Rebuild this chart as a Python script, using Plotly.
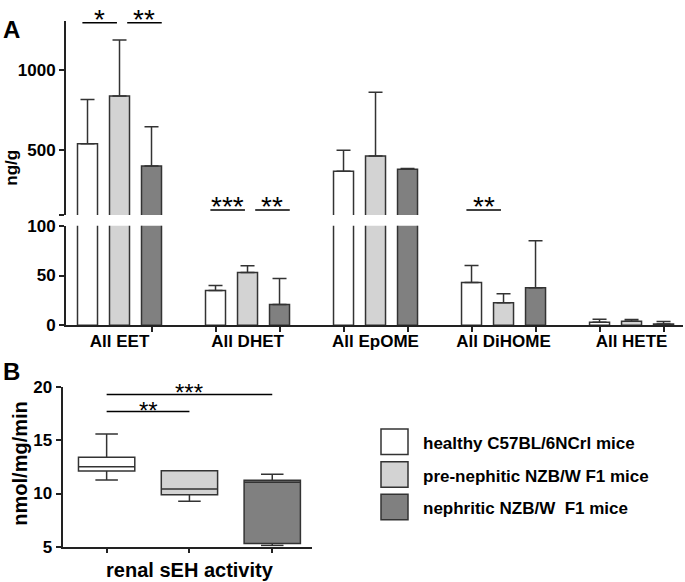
import plotly.graph_objects as go

# ---------------- data ----------------
groups = ["All EET", "All DHET", "All EpOME", "All DiHOME", "All HETE"]
series_names = ["healthy C57BL/6NCrl mice", "pre-nephitic NZB/W F1 mice", "nephritic NZB/W  F1 mice"]

healthy = [540, 35, 369, 43, 3.2]
healthy_err = [275, 5, 131, 17, 2.9]
pre = [837, 53, 464, 22.6, 4.2]
pre_err = [350, 6.8, 396, 9.1, 1.6]
neph = [402, 21, 381, 37.6, 1.3]
neph_err = [244, 26, 5, 47.2, 2.6]

seh_q1 = [12.12, 9.88, 5.3]
seh_median = [12.52, 10.43, 11.06]
seh_q3 = [13.43, 12.15, 11.25]
seh_low = [11.27, 9.27, 5.09]
seh_high = [15.6, 12.15, 11.82]

# significance: (group, bracket index, stars, height)
sig_a = [(0, 0, "*", 1293), (0, 1, "**", 1293), (1, 0, "***", 128), (1, 1, "**", 128), (3, 0, "**", 128)]
# (from box, to box, stars, height)
sig_b = [(0, 1, "**", 17.73), (0, 2, "***", 19.34)]

# ---------------- styling / layout ----------------
W, H = 685, 582
FONT = "Liberation Sans, Arial, sans-serif"
EDGE = "#333333"
fills = ["#ffffff", "#d3d3d3", "#808080"]
offsets = [-0.25, 0.0, 0.25]
bar_w = 20 / 128
bracket_spans = [(-0.29, -0.02), (0.06, 0.33)]
LOW_MAX = 100
UP_MIN, UP_MAX = 96.4, 1307


def fx(p):
    return p / W


def fy(p):
    return 1 - p / H


values = [healthy, pre, neph]
errors = [healthy_err, pre_err, neph_err]

fig = go.Figure()
gidx = list(range(len(groups)))

for s in range(3):
    xs = [g + offsets[s] for g in gidx]
    low_err = [e if v <= LOW_MAX else 0 for v, e in zip(values[s], errors[s])]
    fig.add_trace(go.Bar(
        x=xs, y=values[s], width=bar_w, xaxis="x", yaxis="y",
        marker=dict(color=fills[s], line=dict(color=EDGE, width=1.5)),
        error_y=dict(type="data", symmetric=False, array=low_err,
                     arrayminus=[0] * len(xs), color=EDGE, thickness=1.5, width=7),
        showlegend=False, hoverinfo="skip"))
    up_idx = [i for i, v in enumerate(values[s]) if v > LOW_MAX]
    fig.add_trace(go.Bar(
        x=[xs[i] for i in up_idx], y=[values[s][i] for i in up_idx], width=bar_w,
        xaxis="x", yaxis="y2",
        marker=dict(color=fills[s], line=dict(color=EDGE, width=1.5)),
        error_y=dict(type="data", symmetric=False, array=[errors[s][i] for i in up_idx],
                     arrayminus=[0] * len(up_idx), color=EDGE, thickness=1.5, width=7),
        showlegend=False, hoverinfo="skip"))

fig.add_trace(go.Scatter(x=gidx, y=[0] * len(gidx), xaxis="x3", yaxis="y",
                         mode="markers", marker=dict(opacity=0), showlegend=False,
                         hoverinfo="skip"))

for s in range(3):
    fig.add_trace(go.Box(
        x=[s], q1=[seh_q1[s]], median=[seh_median[s]], q3=[seh_q3[s]],
        lowerfence=[seh_low[s]], upperfence=[seh_high[s]],
        xaxis="x2", yaxis="y3", width=0.68, whiskerwidth=0.4,
        fillcolor=fills[s], line=dict(color=EDGE, width=1.5),
        boxpoints=False, showlegend=False, hoverinfo="skip"))

tickfont = dict(family=FONT, size=17, color="black", weight="bold")
axis_common = dict(showline=True, linecolor="#222222", linewidth=1.8, showgrid=False,
                   zeroline=False, ticks="outside", ticklen=5, tickwidth=1.8,
                   tickcolor="#222222", tickfont=tickfont)

xr = [-0.418, 4.402]
minor_ticks = [g + 0.25 for g in gidx] + [g + 0.75 for g in gidx[:-1]]

fig.update_layout(
    width=W, height=H, autosize=False,
    margin=dict(l=0, r=0, t=0, b=0),
    paper_bgcolor="white", plot_bgcolor="rgba(0,0,0,0)",
    barmode="overlay",
    font=dict(family=FONT, color="black"),
    xaxis=dict(axis_common, domain=[fx(66), fx(683)], range=xr, anchor="y",
               tickvals=sorted(minor_ticks), ticktext=[""] * len(minor_ticks)),
    xaxis3=dict(overlaying="x", domain=[fx(66), fx(683)], range=xr, anchor="y",
                showline=False, showgrid=False, zeroline=False, ticks="",
                tickvals=gidx, ticktext=groups, tickfont=tickfont, side="bottom",
                ticklabelstandoff=4),
    yaxis=dict(axis_common, domain=[fy(327), fy(224)], range=[0, LOW_MAX], anchor="x",
               tickvals=[0, 50, 100]),
    yaxis2=dict(axis_common, domain=[fy(213), fy(12)], range=[UP_MIN - 0.5, UP_MAX], anchor="x",
                tickvals=[UP_MIN + 0.5, 500, 1000], ticktext=["", "500", "1000"]),
    xaxis2=dict(axis_common, domain=[fx(62.5), fx(312)], range=[-0.533, 2.48], anchor="y3",
                tickvals=[0, 1, 2], ticktext=["", "renal sEH activity", ""],
                tickfont=dict(family=FONT, size=20, color="black", weight="bold")),
    yaxis3=dict(axis_common, domain=[fy(555.7), fy(391.2)], range=[5, 20], anchor="x2",
                tickvals=[5, 10, 15, 20]),
)

shapes = []
annotations = []
for g, b, stars, h in sig_a:
    x0, x1 = g + bracket_spans[b][0], g + bracket_spans[b][1]
    shapes.append(dict(type="line", xref="x", yref="y2", x0=x0, x1=x1, y0=h, y1=h,
                       line=dict(color="black", width=1.5)))
    annotations.append(dict(xref="x", yref="y2", x=(x0 + x1) / 2, y=h, text=stars,
                            showarrow=False, yanchor="bottom", yshift=-14,
                            font=dict(family=FONT, size=28, color="black")))
for a, b, stars, h in sig_b:
    shapes.append(dict(type="line", xref="x2", yref="y3", x0=a, x1=b, y0=h, y1=h,
                       line=dict(color="black", width=1.5)))
    annotations.append(dict(xref="x2", yref="y3", x=(a + b) / 2, y=h, text=stars,
                            showarrow=False, yanchor="bottom", yshift=-14,
                            font=dict(family=FONT, size=24, color="black")))

leg_tops = [434.3, 468, 501.7]
for s in range(3):
    shapes.append(dict(type="rect", xref="paper", yref="paper",
                       x0=fx(381), x1=fx(408), y0=fy(leg_tops[s] + 26.3), y1=fy(leg_tops[s]),
                       fillcolor=fills[s], line=dict(color=EDGE, width=1.5)))
    annotations.append(dict(xref="paper", yref="paper", x=fx(421), y=fy(leg_tops[s] + 15),
                            text=series_names[s], showarrow=False, xanchor="left",
                            yanchor="middle",
                            font=dict(family=FONT, size=17, color="black", weight="bold")))

annotations.append(dict(xref="paper", yref="paper", x=fx(1), y=fy(21), text="A",
                        showarrow=False, xanchor="left", yanchor="middle",
                        font=dict(family=FONT, size=24, color="black", weight="bold")))
annotations.append(dict(xref="paper", yref="paper", x=fx(1), y=fy(375), text="B",
                        showarrow=False, xanchor="left", yanchor="middle",
                        font=dict(family=FONT, size=24, color="black", weight="bold")))
annotations.append(dict(xref="paper", yref="paper", x=fx(12), y=fy(164), text="ng/g",
                        showarrow=False, textangle=-90, xanchor="center", yanchor="middle",
                        font=dict(family=FONT, size=17, color="black", weight="bold")))
annotations.append(dict(xref="paper", yref="paper", x=fx(20), y=fy(470), text="nmol/mg/min",
                        showarrow=False, textangle=-90, xanchor="center", yanchor="middle",
                        font=dict(family=FONT, size=20, color="black", weight="bold")))

fig.update_layout(shapes=shapes, annotations=annotations)
fig.write_html("out.html", config={"displayModeBar": False},
               post_script="document.body.style.margin='0';document.body.style.overflow='hidden';")
